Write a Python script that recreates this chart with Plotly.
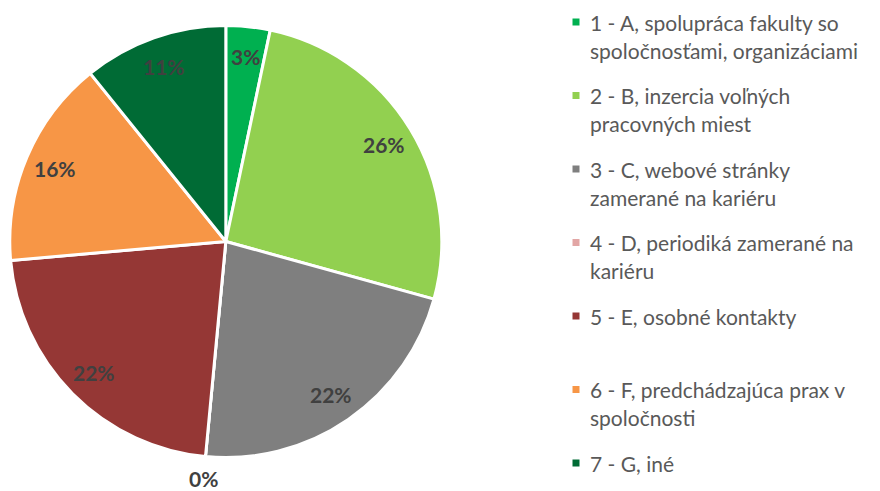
import math
import plotly.graph_objects as go

# Survey answers: where graduates found their job (share of respondents, %)
categories = [
    "1 - A, spolupráca fakulty so<br>spoločnosťami, organizáciami",
    "2 - B, inzercia voľných<br>pracovných miest",
    "3 - C, webové stránky<br>zamerané na kariéru",
    "4 - D, periodiká zamerané na<br>kariéru",
    "5 - E, osobné kontakty",
    "6 - F, predchádzajúca prax v<br>spoločnosti",
    "7 - G, iné",
]
shares = [3.3, 26.0, 22.2, 0.0, 22.1, 15.6, 10.8]
colors = ["#00B050", "#92D050", "#7F7F7F", "#E2A6A5", "#953735", "#F79646", "#006B35"]

W, H = 880, 491

# pie geometry in pixels
cx, cy, r = 225.8, 241.5, 216.0
dom_x = [(cx - r) / W, (cx + r) / W]
dom_y = [(H - cy - r) / H, (H - cy + r) / H]

fig = go.Figure(
    go.Pie(
        values=shares,
        labels=[c.replace("<br>", " ") for c in categories],
        sort=False,
        direction="clockwise",
        rotation=0,
        marker=dict(colors=colors, line=dict(color="white", width=3)),
        textinfo="none",
        showlegend=False,
        domain=dict(x=dom_x, y=dom_y),
    )
)

annotations = []
shapes = []

# percentage labels: inside at 0.86 r, empty slices just outside the rim
total = sum(shares)
cum = 0.0
for v in shares:
    mid = (cum + v / 2) / total * 2 * math.pi
    cum += v
    d = r * (0.86 if v > 0 else 1.10)
    px = cx + d * math.sin(mid)
    py = cy - d * math.cos(mid)
    annotations.append(dict(
        x=px / W, y=1 - py / H, xref="paper", yref="paper",
        text=f"<b>{round(v / total * 100):.0f}%</b>", showarrow=False,
        xanchor="center", yanchor="middle", borderpad=0,
        font=dict(family="Lato", size=21, color="#404040"),
    ))

# legend at the right: evenly spaced items, wrapped names
item_top, item_step, line_step = 22.0, 73.5, 28.0
text_x, sq_x, sq = 588.0, 576.0, 7.0
for i, (name, col) in enumerate(zip(categories, colors)):
    y0 = item_top + i * item_step
    shapes.append(dict(
        type="rect", xref="paper", yref="paper",
        x0=(sq_x - sq / 2) / W, x1=(sq_x + sq / 2) / W,
        y0=1 - (y0 + sq / 2) / H, y1=1 - (y0 - sq / 2) / H,
        fillcolor=col, line=dict(width=0),
    ))
    for j, line in enumerate(name.split("<br>")):
        annotations.append(dict(
            x=text_x / W, y=1 - (y0 + j * line_step) / H,
            xref="paper", yref="paper", text=line, showarrow=False,
            xanchor="left", yanchor="middle",
            font=dict(family="Lato", size=21, color="#595959"),
        ))

fig.update_layout(
    width=W, height=H,
    margin=dict(l=0, r=0, t=0, b=0),
    paper_bgcolor="white", plot_bgcolor="white",
    annotations=annotations, shapes=shapes,
)

fig.write_html("out.html")
